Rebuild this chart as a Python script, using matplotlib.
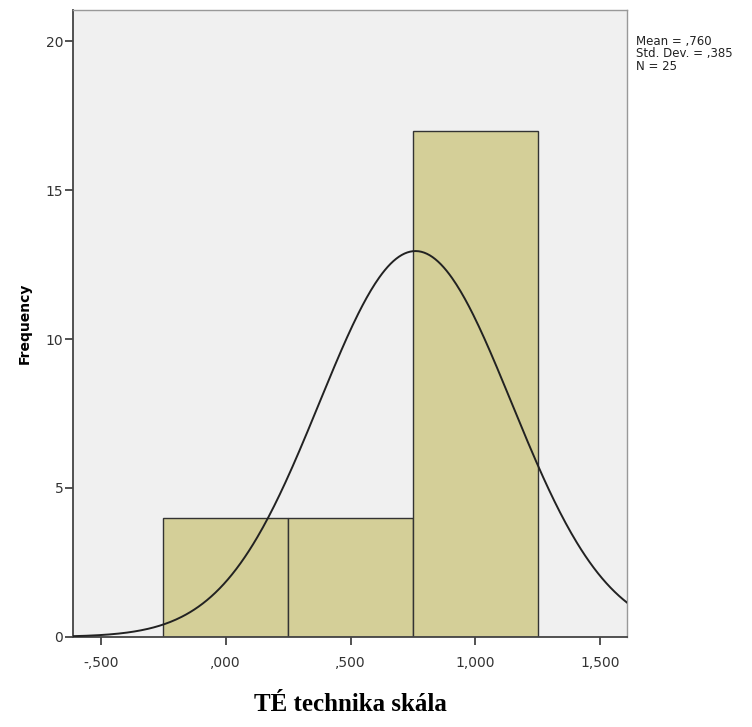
import numpy as np
import matplotlib
matplotlib.use("Agg")
import matplotlib.pyplot as plt

# histogram data (SPSS output)
bin_edges = [-0.25, 0.25, 0.75, 1.25]
counts = [4, 4, 17]
mean = 0.760
std_dev = 0.385
n = 25
x_ticks = [-0.5, 0.0, 0.5, 1.0, 1.5]
x_tick_labels = ["-,500", ",000", ",500", "1,000", "1,500"]
y_ticks = [0, 5, 10, 15, 20]

bar_color = "#D4CF98"
bg_color = "#F0F0F0"

fig = plt.figure(figsize=(7.52, 7.27), dpi=100)
ax = fig.add_axes([0.097, 0.124, 0.737, 0.862])
ax.set_facecolor(bg_color)

# bars
lefts = bin_edges[:-1]
widths = np.diff(bin_edges)
ax.bar(lefts, counts, width=widths, align="edge", color=bar_color,
       edgecolor="#333333", linewidth=1.0, zorder=2)

# normal curve
bw = widths[0]
xs = np.linspace(-0.62, 1.62, 400)
ys = n * bw / (std_dev * np.sqrt(2 * np.pi)) * np.exp(-0.5 * ((xs - mean) / std_dev) ** 2)
ax.plot(xs, ys, color="#222222", linewidth=1.4, zorder=3)

ax.set_xlim(-0.612, 1.608)
ax.set_ylim(0, 21.04)
ax.set_xticks(x_ticks)
ax.set_xticklabels(x_tick_labels)
ax.set_yticks(y_ticks)

for s in ["top", "right"]:
    ax.spines[s].set_color("#999999")
    ax.spines[s].set_linewidth(1.0)
for s in ["left", "bottom"]:
    ax.spines[s].set_color("#444444")
    ax.spines[s].set_linewidth(1.3)

ax.tick_params(axis="both", direction="out", length=6, width=1.3,
               color="#444444", labelcolor="#333333", labelsize=10)
ax.tick_params(axis="x", pad=8)
ax.tick_params(axis="y", pad=1)

ax.set_ylabel("Frequency", fontsize=10, fontweight="bold", labelpad=10)
ax.set_xlabel("TÉ technika skála", fontsize=18, fontweight="bold",
              family="Liberation Serif", labelpad=16)

fig.text(0.846, 0.952,
         "Mean = ,760\nStd. Dev. = ,385\nN = %d" % n,
         fontsize=8.5, va="top", ha="left", color="#222222", linespacing=0.95)

fig.savefig("out.png", dpi=100)
